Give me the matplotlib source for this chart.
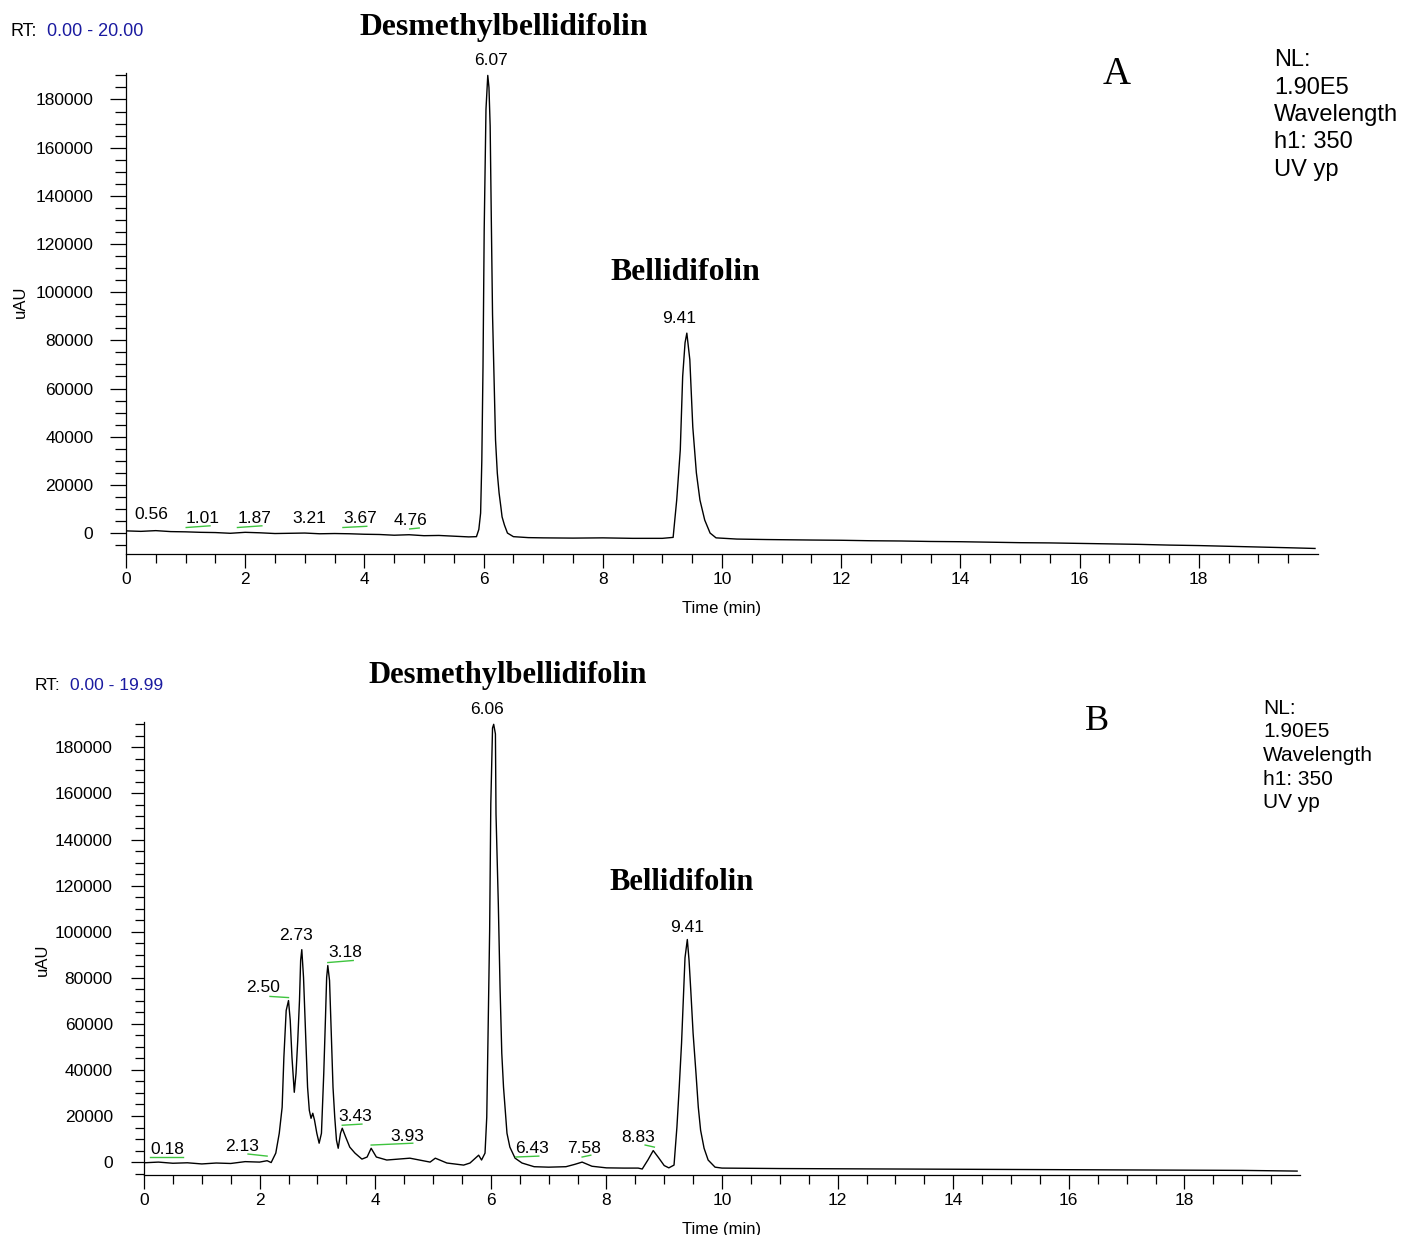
import matplotlib
matplotlib.use('Agg')
import matplotlib.pyplot as plt
from matplotlib.ticker import MultipleLocator, FixedLocator

W, H = 1403, 1235

# ---------------- panel A data ----------------
time_a = [0.0, 0.25, 0.5, 0.75, 1.0, 1.25, 1.5, 1.75, 2.0, 2.25, 2.5, 2.75, 3.0, 3.25,
          3.5, 3.75, 4.0, 4.25, 4.5, 4.75, 5.0, 5.25, 5.5, 5.75, 5.88, 5.92, 5.95, 5.97,
          5.99, 6.01, 6.04, 6.07, 6.09, 6.11, 6.13, 6.15, 6.18, 6.2, 6.23, 6.26, 6.29,
          6.31, 6.35, 6.4, 6.5, 6.75, 7.0, 7.5, 8.0, 8.5, 9.0, 9.18, 9.24, 9.30, 9.34,
          9.38, 9.41, 9.46, 9.51, 9.57, 9.63, 9.71, 9.80, 9.9, 10.25, 10.75, 11.5, 12.0,
          12.5, 13.0, 13.5, 14.0, 14.5, 15.0, 15.5, 16.0, 16.5, 17.0, 17.5, 18.0, 18.5,
          19.0, 19.5, 19.95]
signal_a = [900, 700, 1000, 600, 500, 300, 200, -100, 300, 100, -200, -100, 0, -300,
            -200, -300, -500, -600, -900, -700, -1100, -1000, -1300, -1600, -1500, 1500, 8300, 30000,
            69000, 126000, 176000, 190000, 185000, 169000, 129000, 90600, 59500, 38700, 24900, 16600, 10800,
            6700, 3300, 0, -1500, -1900, -2000, -2100, -2000, -2200, -2200, -1800, 13700, 34500, 65000,
            79000, 83000, 72000, 44000, 25000, 13700, 5400, 0, -2000, -2500, -2700, -2900, -3000,
            -3200, -3300, -3500, -3600, -3800, -4000, -4100, -4300, -4500, -4700, -5000, -5200, -5500,
            -5800, -6100, -6400]

labels_a = ['0.56', '1.01', '1.87', '3.21', '3.67', '4.76', '6.07', '9.41']
label_x_a = [0.42, 1.28, 2.15, 3.07, 3.93, 4.78, 6.12, 9.28]
label_y_a = [7500, 6200, 6200, 6200, 6200, 5400, 196000, 89000]

# green integration marks: start, end, value at start, value at end
green_t0_a = [1.01, 1.87, 3.64, 4.76]
green_t1_a = [1.41, 2.28, 4.04, 4.92]
green_v0_a = [2300, 2300, 2300, 1700]
green_v1_a = [3000, 3000, 2800, 2100]

# ---------------- panel B data ----------------
time_b = [0.0, 0.25, 0.5, 0.75, 1.0, 1.25, 1.5, 1.75, 2.0, 2.13, 2.2, 2.28, 2.34, 2.39,
          2.42, 2.46, 2.50, 2.53, 2.56, 2.60, 2.63, 2.66, 2.69, 2.71, 2.73, 2.76, 2.80,
          2.83, 2.86, 2.89, 2.92, 2.95, 2.99, 3.03, 3.07, 3.11, 3.14, 3.16, 3.18, 3.21,
          3.24, 3.27, 3.30, 3.33, 3.36, 3.40, 3.43, 3.49, 3.56, 3.65, 3.77, 3.86, 3.93,
          4.02, 4.2, 4.6, 4.95, 5.04, 5.24, 5.53, 5.64, 5.79, 5.84, 5.90, 5.93, 5.95,
          5.98, 6.00, 6.03, 6.05, 6.08, 6.09, 6.13, 6.16, 6.19, 6.22, 6.25, 6.28, 6.33,
          6.42, 6.54, 6.75, 7.0, 7.3, 7.45, 7.58, 7.75, 8.0, 8.3, 8.55, 8.62, 8.72,
          8.81, 8.90, 9.0, 9.08, 9.17, 9.22, 9.26, 9.30, 9.33, 9.36, 9.40, 9.43, 9.46,
          9.50, 9.55, 9.59, 9.63, 9.69, 9.76, 9.88, 10.0, 11.0, 12.0, 13.0, 14.0, 15.0,
          16.0, 17.0, 18.0, 19.0, 19.95]
signal_b = [-300, 0, -500, -300, -800, -400, -600, 200, 0, 600, -200, 3900, 12500, 23800,
            45500, 65800, 70100, 61500, 45500, 30300, 38500, 52800, 70100, 87500, 92200, 80100, 52800,
            32500, 22500, 19000, 21200, 18200, 12500, 8200, 12500, 38500, 62800, 80100, 85300, 78800,
            55900, 32500, 19500, 9500, 6000, 12500, 14700, 10800, 6500, 3900, 1300, 2200, 6000,
            2200, 900, 1700, 0, 1700, -400, -1300, -400, 3000, 900, 3900, 19500, 51500,
            100500, 155400, 188400, 190000, 185800, 151100, 112100, 75800, 47200, 32500, 22500, 12500, 6500,
            1700, -400, -2000, -2200, -2000, -1000, 0, -1800, -2500, -2600, -2600, -3000, 1000,
            5000, 2000, -1500, -2500, -1300, 15200, 32500, 51500, 70100, 88700, 96600, 87500, 74500,
            55900, 38500, 23800, 13800, 6000, 900, -2200, -2600, -2800, -2900, -3000, -3100, -3200,
            -3300, -3400, -3500, -3600, -3900]

labels_b = ['0.18', '2.13', '2.50', '2.73', '3.18', '3.43', '3.93', '6.06', '6.43', '7.58', '8.83', '9.41']
label_x_b = [0.40, 1.70, 2.06, 2.63, 3.49, 3.65, 4.55, 5.93, 6.71, 7.61, 8.55, 9.39]
label_y_b = [5600, 6900, 75800, 98300, 90900, 19900, 11300, 196600, 6100, 6100, 10800, 102000]

green_t0_b = [0.10, 1.80, 2.18, 3.18, 3.43, 3.93, 6.43, 7.58, 8.67]
green_t1_b = [0.67, 2.13, 2.50, 3.62, 3.77, 4.65, 6.83, 7.73, 8.83]
green_v0_b = [2200, 3500, 71900, 86600, 16000, 7400, 2200, 2200, 7400]
green_v1_b = [2200, 2600, 71400, 87500, 16500, 8200, 2600, 3000, 6500]

SANS = 'Liberation Sans'
SERIF = 'Liberation Serif'


def fpos(x, y):
    return x / W, 1 - y / H


def make_panel(fig, rect, t, s, labels, lx, ly, g0, g1, gv0, gv1, ylim, big):
    ax = fig.add_axes(rect)
    ax.plot(t, s, color='black', linewidth=1.0)
    for a, b, v0, v1 in zip(g0, g1, gv0, gv1):
        ax.plot([a, b], [v0, v1], color='#3ec43e', linewidth=1.0)
    for txt, x, y in zip(labels, lx, ly):
        ax.text(x, y, txt, ha='center', va='center', fontsize=12.5, family=SANS, clip_on=False)
    ax.set_xlim(0, 20)
    ax.set_ylim(*ylim)
    for side in ['top', 'right']:
        ax.spines[side].set_visible(False)
    for side in ['left', 'bottom']:
        ax.spines[side].set_linewidth(0.9)
    ax.xaxis.set_major_locator(FixedLocator(range(0, 20, 2)))
    ax.xaxis.set_minor_locator(FixedLocator([k * 0.5 for k in range(40)]))
    ax.yaxis.set_major_locator(MultipleLocator(20000))
    ax.yaxis.set_minor_locator(MultipleLocator(5000))
    ax.tick_params(axis='x', which='major', length=10, width=0.9, pad=3, labelsize=12.5)
    ax.tick_params(axis='x', which='minor', length=6.5, width=0.9)
    ax.tick_params(axis='y', which='major', length=big, width=0.9, pad=12, labelsize=12.5)
    ax.tick_params(axis='y', which='minor', length=big * 0.7, width=0.9)
    for lab in ax.get_xticklabels() + ax.get_yticklabels():
        lab.set_family(SANS)
    ax.set_xlabel('Time (min)', fontsize=12, family=SANS, labelpad=10)
    return ax


fig = plt.figure(figsize=(W / 100, H / 100), dpi=100)

# panel A
axA = make_panel(fig, [126 / W, 1 - 554 / H, 1192 / W, 481 / H], time_a, signal_a,
                 labels_a, label_x_a, label_y_a, green_t0_a, green_t1_a, green_v0_a, green_v1_a,
                 (-8700, 191000), 11.5)
fig.text(*fpos(20, 302), 'uAU', rotation=90, ha='center', va='center', fontsize=12, family=SANS)

# panel B
axB = make_panel(fig, [144 / W, 1 - 1175 / H, 1156 / W, 453 / H], time_b, signal_b,
                 labels_b, label_x_b, label_y_b, green_t0_b, green_t1_b, green_v0_b, green_v1_b,
                 (-5600, 191000), 9.5)
axB.tick_params(axis='y', which='major', pad=13)
fig.text(*fpos(42, 960), 'uAU', rotation=90, ha='center', va='center', fontsize=12, family=SANS)

# header texts
fig.text(*fpos(10, 32), 'RT:', ha='left', va='center', fontsize=13, family=SANS)
fig.text(*fpos(47, 32), '0.00 - 20.00', ha='left', va='center', fontsize=13, family=SANS, color='#1a1aa0')
fig.text(*fpos(35, 685), 'RT:', ha='left', va='center', fontsize=12.5, family=SANS)
fig.text(*fpos(70, 685), '0.00 - 19.99', ha='left', va='center', fontsize=12.5, family=SANS, color='#1a1aa0')

fig.text(*fpos(504, 27), 'Desmethylbellidifolin', ha='center', va='center', fontsize=22.8,
         family=SERIF, weight='bold')
fig.text(*fpos(685, 273), 'Bellidifolin', ha='center', va='center', fontsize=22.8,
         family=SERIF, weight='bold')
fig.text(*fpos(508, 675), 'Desmethylbellidifolin', ha='center', va='center', fontsize=22,
         family=SERIF, weight='bold')
fig.text(*fpos(682, 882), 'Bellidifolin', ha='center', va='center', fontsize=22,
         family=SERIF, weight='bold')

fig.text(*fpos(1117, 75), 'A', ha='center', va='center', fontsize=28, family=SERIF)
fig.text(*fpos(1097, 722), 'B', ha='center', va='center', fontsize=26, family=SERIF)

nl_lines = ['NL:', '1.90E5', 'Wavelength', 'h1: 350', 'UV yp']
for i, line in enumerate(nl_lines):
    fig.text(*fpos(1274, 60 + i * 27.5), line, ha='left', va='center', fontsize=17, family=SANS)
    fig.text(*fpos(1263, 708 + i * 23.7), line, ha='left', va='center', fontsize=15, family=SANS)

fig.savefig('out.png', dpi=100)
